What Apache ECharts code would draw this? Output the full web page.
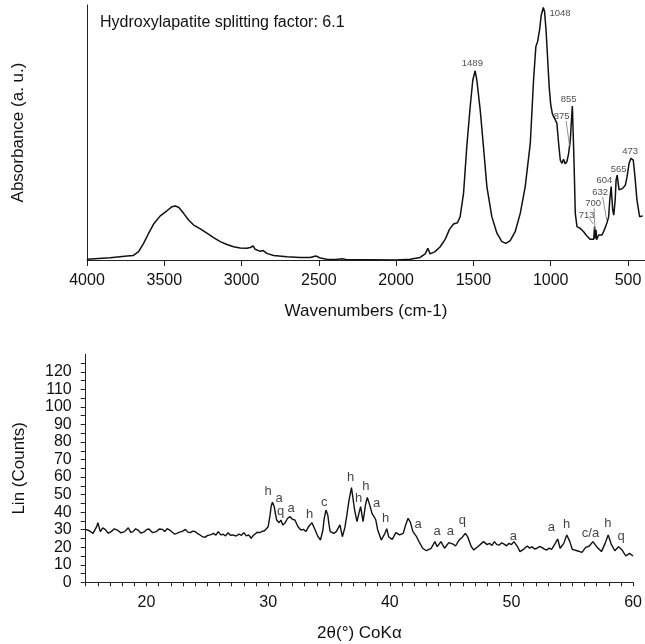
<!DOCTYPE html>
<html>
<head>
<meta charset="utf-8">
<script src="https://cdn.jsdelivr.net/npm/echarts@6/dist/echarts.min.js"></script>
<style>
html,body{margin:0;padding:0;background:#fff;}
#chart{width:645px;height:644px;}
</style>
</head>
<body>
<div id="chart"></div>
<script>
// ---------- FTIR spectrum (top) ----------
var ftirWavenumber = [4000,3850,3740,3700,3666,3634,3601,3569,3526,3483,3450,3430,3407,3375,3343,3310,3267,3224,3181,3138,3095,3052,3009,2966,2944,2925,2912,2879,2860,2836,2793,2707,2621,2556,2520,2491,2448,2390,2350,2319,2168,2000,1909,1845,1812,1795,1780,1748,1715,1683,1655,1629,1603,1586,1564,1543,1521,1504,1489,1478,1456,1435,1413,1381,1348,1316,1290,1262,1230,1197,1165,1132,1111,1096,1085,1072,1061,1048,1040,1030,1020,1010,1000,990,980,970,960,949,938,927,917,906,895,884,873,867,860,855,850,841,830,809,787,766,744,722,716,712,707,703,690,679,668,653,636,625,618,609,604,599,592,583,577,570,565,558,549,534,517,506,493,481,473,466,455,442,425,414,404];
var ftirAbsorbance = [0.003,0.009,0.016,0.018,0.033,0.065,0.105,0.141,0.173,0.193,0.209,0.212,0.207,0.183,0.157,0.137,0.122,0.105,0.088,0.072,0.061,0.052,0.047,0.046,0.049,0.055,0.042,0.034,0.037,0.026,0.018,0.013,0.010,0.010,0.016,0.008,0.003,0.002,0.005,0.001,0.001,0.000,0.003,0.010,0.024,0.046,0.024,0.033,0.052,0.081,0.120,0.141,0.146,0.170,0.261,0.444,0.601,0.706,0.742,0.706,0.588,0.444,0.288,0.170,0.105,0.072,0.065,0.076,0.111,0.183,0.288,0.458,0.706,0.837,0.856,0.902,0.961,0.990,0.975,0.900,0.790,0.680,0.610,0.575,0.560,0.549,0.536,0.458,0.392,0.379,0.395,0.377,0.386,0.418,0.471,0.536,0.604,0.608,0.405,0.183,0.131,0.124,0.111,0.094,0.081,0.081,0.131,0.085,0.118,0.080,0.098,0.105,0.098,0.118,0.146,0.170,0.235,0.288,0.290,0.196,0.176,0.235,0.314,0.333,0.335,0.275,0.268,0.281,0.294,0.327,0.379,0.399,0.402,0.392,0.327,0.235,0.170,0.163,0.173];
var ftirTicks = [4000,3500,3000,2500,2000,1500,1000,500];
var ftirPeakText = ['1489','1048','855','875','473','565','604','632','700','713'];
var ftirPeakLabelWn = [1507,940,884,929,486,561,653,680,726,768];
var ftirPeakLabelAbs = [0.771,0.969,0.631,0.565,0.425,0.357,0.311,0.265,0.222,0.176];
var leader875 = [[900,0.545],[878,0.447]];
var leader632 = [[664,0.248],[638,0.157]];
var leader700 = [[719,0.203],[714,0.118]];
var leader713 = [[751,0.164],[725,0.141]];
var ftirTitle = 'Hydroxylapatite splitting factor: 6.1';

// ---------- XRD pattern (bottom) ----------
var xrdTwoTheta = [15.0,15.3,15.6,15.9,16.0,16.2,16.4,16.6,16.85,17.1,17.35,17.6,17.9,18.2,18.5,18.7,18.9,19.1,19.3,19.55,19.8,20.0,20.2,20.5,20.8,21.05,21.3,21.5,21.7,21.9,22.1,22.3,22.5,22.7,22.9,23.05,23.2,23.4,23.6,23.8,24.0,24.2,24.4,24.6,24.8,25.0,25.1,25.3,25.5,25.7,25.9,26.1,26.3,26.5,26.7,26.9,27.1,27.35,27.6,27.8,28.0,28.2,28.4,28.6,28.75,28.9,29.1,29.3,29.5,29.7,29.85,30.0,30.15,30.25,30.35,30.5,30.6,30.7,30.9,31.05,31.2,31.4,31.6,31.8,32.0,32.2,32.3,32.45,32.7,32.9,33.1,33.3,33.6,33.8,34.0,34.1,34.3,34.5,34.6,34.75,34.9,35.0,35.1,35.4,35.6,35.9,36.1,36.3,36.45,36.65,36.85,36.95,37.1,37.3,37.45,37.6,37.8,38.0,38.15,38.35,38.55,38.7,38.85,39.0,39.3,39.6,39.75,39.9,40.2,40.5,40.8,41.1,41.3,41.5,41.7,41.9,42.2,42.4,42.7,43.0,43.4,43.7,43.9,44.2,44.5,44.85,45.2,45.4,45.7,46.0,46.2,46.4,46.7,46.9,47.3,47.7,48.0,48.2,48.4,48.6,48.8,49.0,49.2,49.4,49.6,49.8,50.0,50.2,50.5,50.7,51.0,51.3,51.5,51.7,51.9,52.1,52.3,52.5,52.7,52.9,53.1,53.3,53.6,53.8,54.0,54.3,54.55,54.8,55.0,55.4,55.8,56.1,56.4,56.7,57.0,57.4,57.7,57.95,58.2,58.5,58.8,59.1,59.4,59.7,60.0];
var xrdCounts = [30.2,29.4,27.9,31.7,34.0,28.9,31.0,30.2,28.0,28.9,30.5,29.8,28.2,28.9,31.1,28.5,28.9,30.5,29.8,28.0,28.7,30.0,30.4,28.3,28.9,30.4,30.2,29.0,30.6,29.8,28.7,27.5,27.9,28.6,28.9,28.0,30.2,28.6,28.3,29.2,28.9,27.8,27.0,26.0,25.6,26.6,26.4,27.2,27.9,26.9,28.9,27.0,27.4,26.5,28.3,26.8,27.0,26.4,27.5,26.8,28.3,26.5,27.0,25.1,26.5,27.0,28.5,28.3,29.0,29.4,30.0,31.7,38.0,43.5,45.6,43.1,39.0,35.5,34.0,35.5,32.7,34.0,36.5,37.4,35.9,35.5,34.6,31.7,29.8,30.2,28.9,31.5,34.0,30.8,27.5,26.0,24.1,29.8,36.0,41.2,38.4,33.0,28.9,27.9,28.9,32.7,26.0,31.0,37.4,47.0,54.0,53.5,41.5,34.6,39.0,43.1,34.6,44.1,48.4,44.0,39.0,37.5,35.5,30.0,24.1,27.9,30.6,26.0,24.5,28.3,27.0,27.9,32.7,36.5,34.0,28.9,26.0,23.2,19.4,18.0,19.4,23.2,20.3,23.2,19.4,22.6,21.8,20.7,24.1,26.0,27.9,26.0,20.3,18.4,20.7,23.2,21.5,22.2,21.0,23.2,21.5,21.3,22.5,21.8,20.8,22.2,21.5,23.2,20.3,17.5,18.8,20.7,19.5,20.3,19.0,19.4,20.4,19.9,18.9,18.4,19.5,18.8,22.2,24.7,19.4,22.2,27.0,23.2,18.8,18.0,17.1,19.9,20.7,23.2,20.3,17.5,22.2,27.0,21.8,18.0,20.3,18.4,15.0,16.5,15.0];
var xrdLabelText = ['h','a','q','a','h','c','h','h','h','a','h','a','a','a','q','a','a','h','c/a','h','q'];
var xrdLabelTheta = [30.0,30.89,31.03,31.89,33.40,34.62,36.77,37.43,38.03,38.92,39.66,42.33,43.89,44.98,45.96,50.16,53.29,54.54,56.50,57.93,59.01];
var xrdLabelCounts = [51.6,47.9,40.2,42.2,38.7,45.6,60.0,47.9,54.5,45.0,36.5,33.0,28.8,28.8,35.5,26.4,31.1,33.0,27.9,33.6,26.0];
var xrdXLabels = [20,30,40,50,60];
var xrdYLabels = [0,10,20,30,40,50,60,70,80,90,100,110,120];
var xrdYTicks = [0,5,10,15,20,25,30,35,40,45,50,55,60,65,70,75,80,85,90,95,100,105,110,115,120,125];
var xrdXTicks = [];
for (var t = 15; t <= 60; t++) xrdXTicks.push(t);

function zip(a, b) { return a.map(function (v, i) { return [v, b[i]]; }); }
function labelData(xs, ys, txt) {
  return xs.map(function (v, i) { return { value: [v, ys[i]], name: txt[i] }; });
}
function plain(v) { return String(v); }

var FONT = 'Liberation Sans, Arial, sans-serif';
var AX = '#222';
var chart = echarts.init(document.getElementById('chart'), null, { renderer: 'canvas' });

var leaderStyle = { type: 'line', symbol: 'none', silent: true, lineStyle: { color: '#777', width: 0.8 }, xAxisIndex: 0, yAxisIndex: 0 };

chart.setOption({
  animation: false,
  backgroundColor: '#fff',
  title: {
    text: ftirTitle, left: 95, top: 10,
    textStyle: { fontFamily: FONT, fontSize: 16, fontWeight: 'normal', color: '#111' }
  },
  grid: [
    { left: 87, top: 5, width: 558, height: 255 },
    { left: 85.7, top: 354.3, width: 549.3, height: 228 }
  ],
  xAxis: [
    {
      gridIndex: 0, type: 'value', inverse: true, min: 390, max: 4000,
      name: 'Wavenumbers (cm-1)', nameLocation: 'middle', nameGap: 43,
      nameTextStyle: { fontFamily: FONT, fontSize: 17, color: '#111' },
      axisLine: { lineStyle: { color: AX, width: 1 } },
      axisTick: { show: true, length: 6, lineStyle: { color: AX }, customValues: ftirTicks },
      axisLabel: { fontFamily: FONT, fontSize: 16, color: '#111', margin: 13, customValues: ftirTicks, formatter: plain },
      splitLine: { show: false }
    },
    {
      gridIndex: 1, type: 'value', min: 15, max: 60,
      name: '2θ(°) CoKα', nameLocation: 'middle', nameGap: 43,
      nameTextStyle: { fontFamily: FONT, fontSize: 17, color: '#111' },
      axisLine: { lineStyle: { color: AX, width: 1 } },
      axisTick: { show: true, length: 4, lineStyle: { color: AX }, customValues: xrdXTicks },
      axisLabel: { fontFamily: FONT, fontSize: 16, color: '#111', margin: 12, customValues: xrdXLabels, formatter: plain },
      splitLine: { show: false }
    }
  ],
  yAxis: [
    {
      gridIndex: 0, type: 'value', min: 0, max: 1,
      name: 'Absorbance (a. u.)', nameLocation: 'middle', nameGap: 60,
      nameTextStyle: { fontFamily: FONT, fontSize: 17, color: '#111' },
      axisLine: { show: true, lineStyle: { color: AX, width: 1 } },
      axisTick: { show: false }, axisLabel: { show: false }, splitLine: { show: false }
    },
    {
      gridIndex: 1, type: 'value', min: 0, max: 130,
      name: 'Lin (Counts)', nameLocation: 'middle', nameGap: 58,
      nameTextStyle: { fontFamily: FONT, fontSize: 17, color: '#111' },
      axisLine: { show: true, lineStyle: { color: AX, width: 1 } },
      axisTick: { show: true, length: 5, lineStyle: { color: AX }, customValues: xrdYTicks },
      axisLabel: { fontFamily: FONT, fontSize: 16, color: '#111', margin: 14, customValues: xrdYLabels, formatter: plain },
      splitLine: { show: false }
    }
  ],
  series: [
    {
      type: 'line', xAxisIndex: 0, yAxisIndex: 0, symbol: 'none', silent: true,
      data: zip(ftirWavenumber, ftirAbsorbance),
      lineStyle: { color: '#111', width: 1.5 }
    },
    Object.assign({ data: leader875 }, leaderStyle),
    Object.assign({ data: leader632 }, leaderStyle),
    Object.assign({ data: leader700 }, leaderStyle),
    Object.assign({ data: leader713 }, leaderStyle),
    {
      type: 'scatter', xAxisIndex: 0, yAxisIndex: 0, symbolSize: 0, silent: true,
      data: labelData(ftirPeakLabelWn, ftirPeakLabelAbs, ftirPeakText),
      label: { show: true, position: 'inside', formatter: '{b}', fontFamily: FONT, fontSize: 9.5, color: '#222' }
    },
    {
      type: 'line', xAxisIndex: 1, yAxisIndex: 1, symbol: 'none', silent: true,
      data: zip(xrdTwoTheta, xrdCounts),
      lineStyle: { color: '#111', width: 1.4 }
    },
    {
      type: 'scatter', xAxisIndex: 1, yAxisIndex: 1, symbolSize: 0, silent: true,
      data: labelData(xrdLabelTheta, xrdLabelCounts, xrdLabelText),
      label: { show: true, position: 'inside', formatter: '{b}', fontFamily: FONT, fontSize: 13, color: '#111' }
    }
  ]
});
</script>
</body>
</html>
